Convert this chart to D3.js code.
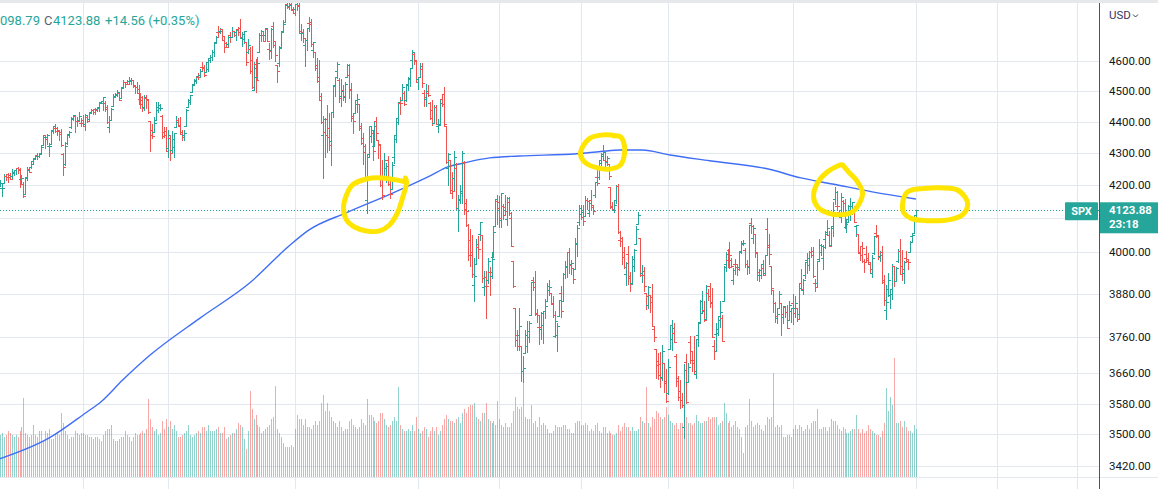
<!DOCTYPE html>
<html><head><meta charset="utf-8">
<script src="https://cdn.jsdelivr.net/npm/d3@7/dist/d3.min.js"></script>
<style>
html,body{margin:0;padding:0;background:#fff;overflow:hidden;}
svg{display:block;font-family:Roboto,"Noto Sans",Arial,sans-serif;}
</style></head><body>
<svg id="chart" width="1158" height="489"></svg>
<script>
// ---- DATA: SPX daily bars, 2021-06-01 .. 2023-04-03 (one row per month) ----
const opens = [
4216,4207,4191,4207,4229,4234,4232,4229,4242,4248,4255,4249,4220,4205,4174,4224,4249,4256,4274,4285,4294,4290,
4300,4327,4357,4351,4321,4330,4373,4381,4381,4370,4368,4296,4265,4331,4362,4382,4410,4417,4403,4404,4396,
4406,4393,4416,4408,4430,4438,4442,4442,4446,4464,4462,4462,4440,4382,4406,4451,4485,4490,4493,4476,4514,4529,
4529,4534,4532,4535,4518,4513,4506,4474,4479,4447,4477,4470,4403,4375,4367,4406,4439,4443,4420,4368,4370,
4317,4348,4310,4320,4384,4406,4386,4368,4358,4387,4448,4464,4497,4524,4532,4547,4553,4579,4580,4563,4573,
4610,4613,4630,4663,4700,4702,4708,4670,4660,4656,4690,4680,4701,4700,4708,4713,4678,4675,4664,4629,4640,
4602,4505,4589,4548,4632,4690,4687,4687,4710,4642,4636,4720,4653,4587,4594,4645,4703,4733,4795,4789,4795,4776,
4778,4804,4788,4694,4697,4655,4670,4728,4733,4637,4632,4588,4547,4471,4357,4367,4409,4381,4337,4431,
4519,4567,4535,4483,4505,4480,4548,4554,4506,4413,4429,4456,4456,4385,4332,4324,4155,4298,4355,
4364,4322,4401,4343,4327,4202,4223,4253,4280,4203,4188,4289,4345,4398,4462,4470,4494,4470,4523,4541,4603,4624,4600,
4540,4548,4573,4495,4474,4494,4462,4437,4396,4449,4385,4390,4473,4490,4385,4255,4279,4187,4222,4254,
4130,4159,4181,4271,4128,4081,4035,3991,3904,3964,4014,4053,4051,3900,3928,3920,3943,3930,3985,4078,4151,
4150,4096,4138,4134,4097,4148,4102,3974,3838,3764,3765,3733,3665,3716,3733,3774,3821,3920,3913,3826,3786,
3782,3792,3831,3858,3889,3881,3851,3762,3764,3818,3883,3860,3935,3955,3999,3965,3954,3951,4026,4088,
4113,4105,4108,4154,4116,4155,4133,4171,4227,4225,4269,4291,4280,4273,4267,4195,4134,4126,4154,4198,4034,4041,4000,
3937,3994,3931,3910,3960,4022,4084,4040,3940,3933,3881,3849,3875,3871,3782,3727,3682,3686,3651,3688,3633,
3609,3726,3753,3771,3707,3647,3596,3590,3520,3690,3638,3746,3697,3689,3657,3763,3799,3825,3835,3809,3881,
3901,3853,3734,3767,3780,3818,3810,3860,3964,3977,4007,3977,3919,3966,3956,3957,4001,4024,4005,3965,3957,
4087,4041,4053,3996,3934,3947,3954,3940,4069,4015,3958,3891,3853,3810,3840,3853,3815,3843,3829,3805,3830,
3853,3840,3840,3823,3910,3889,3932,3977,3961,3999,4002,3911,3909,3979,4001,3982,4037,4053,4050,4021,
4070,4159,4137,4119,4105,4153,4145,4073,4097,4126,4119,4115,4077,4052,4001,4018,3974,3993,3977,
3964,3939,3998,4055,4049,3988,3999,3912,3835,3894,3876,3879,3958,3917,3975,4003,3959,3939,3982,3975,3999,4047,4056,
4102];
const highs = [
4234,4217,4204,4234,4233,4237,4238,4249,4248,4255,4257,4252,4233,4211,4226,4256,4256,4272,4286,4293,4300,4302,
4321,4356,4359,4361,4331,4372,4386,4393,4383,4371,4376,4301,4336,4359,4369,4415,4422,4419,4416,4430,4412,
4422,4424,4417,4430,4441,4440,4445,4449,4461,4468,4480,4467,4455,4418,4443,4489,4493,4502,4496,4513,4537,4531,
4537,4546,4542,4536,4521,4529,4521,4492,4485,4487,4486,4471,4403,4394,4416,4465,4463,4457,4421,4382,4382,
4375,4356,4369,4365,4418,4413,4415,4375,4372,4440,4475,4487,4521,4540,4551,4559,4572,4598,4585,4597,4608,
4621,4636,4664,4684,4718,4714,4708,4685,4664,4688,4698,4715,4702,4708,4717,4743,4699,4702,4665,4673,4646,
4652,4595,4608,4613,4695,4706,4699,4713,4710,4660,4712,4732,4666,4587,4651,4698,4740,4791,4808,4805,4808,4787,
4797,4819,4798,4725,4708,4674,4714,4749,4745,4665,4632,4611,4603,4495,4418,4411,4454,4429,4432,4516,
4547,4595,4542,4540,4521,4531,4591,4589,4527,4427,4472,4490,4456,4395,4363,4330,4295,4385,4385,
4375,4401,4416,4343,4327,4277,4299,4268,4292,4218,4271,4358,4412,4465,4481,4522,4501,4521,4546,4576,4637,4628,4603,
4547,4593,4594,4503,4522,4521,4464,4471,4453,4453,4410,4471,4489,4512,4386,4300,4279,4240,4308,4269,
4170,4201,4307,4275,4158,4082,4068,4050,3982,4039,4047,4090,4051,3946,3944,3982,3955,3999,4075,4158,4169,
4167,4177,4143,4169,4165,4164,4119,3975,3839,3778,3838,3733,3707,3779,3802,3802,3913,3928,3946,3837,3818,
3829,3832,3864,3911,3919,3881,3874,3830,3796,3863,3903,3939,3975,3999,4013,3976,3954,4040,4079,4141,
4141,4140,4168,4162,4151,4187,4138,4211,4258,4280,4301,4325,4302,4292,4267,4195,4149,4156,4200,4203,4062,4045,4015,
3971,4018,3942,3987,4010,4076,4119,4040,3961,3956,3881,3901,3877,3907,3790,3727,3716,3717,3736,3688,3671,
3698,3793,3807,3797,3711,3653,3641,3608,3685,3712,3689,3762,3719,3762,3754,3801,3862,3886,3859,3905,3893,
3911,3895,3751,3796,3814,3859,3819,3959,4001,4009,4028,3983,3954,3980,3962,4004,4033,4035,4013,3976,4080,
4101,4080,4053,4001,3951,3966,3977,3991,4101,4053,3959,3891,3855,3839,3888,3853,3846,3846,3849,3858,3840,
3878,3874,3840,3907,3951,3921,3971,3998,4003,4016,4016,3923,3973,4039,4024,4019,4062,4095,4063,4077,
4149,4195,4183,4125,4176,4156,4157,4094,4139,4160,4149,4136,4081,4052,4017,4029,3979,4018,3997,
3972,3990,4048,4079,4051,4002,4018,3934,3905,3938,3894,3965,3959,3956,4010,4039,4007,3973,4004,3979,4031,4057,4110,
4126];
const lows = [
4197,4198,4167,4206,4217,4210,4219,4221,4233,4234,4238,4196,4203,4164,4174,4217,4241,4255,4267,4281,4283,4288,
4300,4326,4315,4330,4290,4330,4365,4368,4356,4341,4323,4233,4263,4330,4351,4380,4405,4367,4387,4403,4386,
4385,4374,4398,4404,4429,4425,4425,4436,4436,4461,4437,4435,4397,4368,4406,4451,4482,4485,4469,4476,4514,4514,
4523,4527,4524,4513,4493,4493,4459,4445,4436,4438,4444,4428,4306,4347,4367,4406,4430,4437,4347,4350,4307,
4289,4279,4305,4289,4382,4386,4360,4343,4342,4387,4448,4457,4497,4524,4526,4540,4547,4569,4551,4563,4568,
4595,4604,4617,4662,4681,4694,4670,4630,4647,4651,4665,4680,4685,4672,4690,4680,4652,4660,4586,4626,4560,
4511,4504,4496,4541,4632,4667,4667,4670,4667,4606,4611,4649,4600,4531,4583,4645,4703,4733,4781,4778,4775,4765,
4758,4775,4700,4671,4663,4582,4638,4701,4651,4615,4569,4531,4475,4396,4223,4287,4305,4309,4264,4414,
4483,4544,4465,4451,4471,4465,4548,4477,4402,4365,4429,4430,4374,4328,4267,4222,4115,4287,4336,
4280,4322,4345,4285,4199,4157,4223,4209,4200,4162,4188,4270,4335,4392,4425,4469,4455,4466,4502,4517,4581,4589,4530,
4507,4547,4514,4451,4450,4485,4408,4388,4395,4392,4367,4390,4452,4385,4268,4201,4175,4162,4187,4129,
4062,4145,4147,4114,4078,3976,3958,3928,3859,3964,3983,4034,3912,3876,3810,3909,3875,3925,3985,4077,4083,
4074,4074,4099,4110,4080,4110,4017,3900,3735,3722,3723,3640,3637,3716,3717,3744,3821,3889,3820,3800,3739,
3752,3742,3810,3858,3876,3850,3815,3758,3721,3817,3814,3860,3925,3928,3938,3937,3910,3951,3989,4080,
4099,4080,4108,4128,4108,4128,4112,4164,4201,4220,4263,4277,4253,4262,4218,4130,4124,4120,4147,4057,4017,3965,3954,
3904,3907,3886,3907,3945,4022,4084,3929,3913,3888,3837,3839,3827,3789,3749,3648,3644,3623,3641,3610,3584,
3604,3726,3722,3745,3626,3588,3568,3571,3492,3582,3638,3687,3666,3657,3647,3733,3799,3825,3803,3809,3863,
3843,3759,3699,3721,3763,3786,3749,3860,3944,3957,3954,3955,3907,3936,3933,3947,3998,4020,3956,3937,3939,
4057,4026,3984,3919,3917,3924,3934,3936,3994,3966,3879,3828,3800,3796,3840,3765,3798,3813,3783,3805,3801,
3795,3815,3803,3810,3890,3878,3925,3938,3947,3985,3926,3886,3900,3974,3990,3950,4013,4049,4017,4021,
4047,4142,4127,4103,4089,4111,4070,4060,4093,4095,4113,4089,4048,3996,3976,3971,3943,3973,3969,
3940,3928,3995,4044,3980,3975,3909,3847,3809,3874,3838,3865,3902,3916,3971,3936,3919,3909,3971,3951,3999,4033,4056,
4099];
const closes = [
4202,4208,4193,4230,4227,4227,4220,4239,4247,4255,4247,4224,4222,4166,4225,4246,4242,4266,4281,4291,4292,4298,
4320,4352,4344,4358,4321,4370,4385,4369,4374,4360,4327,4258,4323,4359,4367,4412,4422,4401,4401,4419,4395,
4387,4423,4403,4429,4437,4432,4437,4448,4461,4468,4480,4448,4400,4406,4442,4480,4486,4496,4470,4509,4529,4523,
4524,4537,4535,4520,4514,4493,4459,4469,4443,4481,4474,4433,4358,4354,4396,4449,4455,4443,4353,4359,4308,
4357,4300,4346,4364,4400,4391,4361,4351,4364,4438,4471,4486,4520,4536,4550,4545,4566,4575,4552,4596,4605,
4614,4631,4661,4680,4698,4702,4685,4647,4649,4683,4683,4701,4689,4705,4698,4683,4691,4701,4595,4655,4567,
4513,4577,4538,4592,4687,4701,4667,4712,4669,4634,4710,4669,4621,4568,4649,4697,4726,4791,4786,4793,4779,4766,
4797,4794,4701,4696,4677,4670,4713,4726,4659,4663,4577,4533,4483,4398,4410,4356,4350,4327,4432,4516,
4547,4589,4477,4501,4484,4522,4587,4504,4419,4402,4471,4475,4380,4349,4305,4226,4289,4385,4374,
4306,4387,4363,4329,4201,4171,4278,4260,4204,4173,4262,4358,4412,4463,4461,4512,4456,4520,4543,4576,4632,4602,4530,
4546,4583,4525,4481,4500,4488,4413,4397,4447,4393,4392,4462,4459,4394,4272,4296,4175,4184,4288,4132,
4155,4175,4300,4147,4123,3991,4001,3935,3930,4024,4008,4089,3924,3901,3901,3974,3941,3979,4058,4158,4132,
4101,4177,4109,4121,4161,4116,4018,3901,3750,3735,3790,3667,3675,3765,3760,3796,3912,3900,3822,3819,3785,
3825,3831,3845,3903,3899,3854,3819,3802,3790,3863,3831,3937,3960,3999,3962,3967,3921,4024,4072,4130,
4119,4091,4155,4152,4145,4140,4122,4210,4207,4280,4297,4305,4274,4284,4228,4138,4129,4141,4199,4058,4031,3986,3955,
3967,3924,3908,3980,4006,4067,4110,3933,3946,3901,3873,3900,3856,3790,3758,3693,3655,3647,3719,3640,3586,
3678,3791,3783,3745,3640,3612,3589,3577,3670,3583,3678,3720,3695,3666,3753,3797,3859,3831,3807,3901,3872,
3856,3760,3720,3771,3807,3828,3749,3956,3993,3957,3992,3959,3947,3965,3950,4004,4027,4026,3964,3958,4080,
4077,4072,3999,3941,3934,3964,3934,3991,4020,3995,3896,3852,3818,3822,3878,3822,3845,3829,3783,3849,3840,
3824,3853,3808,3895,3892,3919,3970,3983,3999,3991,3929,3899,3973,4020,4017,4016,4060,4071,4018,4077,
4119,4180,4136,4111,4164,4118,4082,4090,4137,4136,4148,4090,4079,3997,3991,4012,3970,3982,3970,
3951,3981,4046,4048,3986,3992,3918,3862,3856,3919,3892,3960,3917,3952,4003,3937,3949,3971,3978,3971,4028,4051,4109,
4123.88];
const volumes = [ // millions of shares
2400,2100,2200,2000,2100,2300,2200,2100,2000,2100,2000,2300,2500,3950,2200,2100,2000,2100,2600,2100,2000,2300,
2300,1800,2300,2200,2400,1900,1900,2100,2200,2100,3200,2700,2300,2100,1900,2000,2000,2300,2200,2100,2200,
2200,2100,2100,2000,2000,1900,2000,2000,1900,1800,2100,2300,2400,2400,2600,1900,1800,1800,1900,2000,2000,2300,
2100,2000,1800,2000,2200,2100,2100,2200,2300,2200,2400,3900,2900,2500,2300,2400,2100,2200,2800,2400,2900,
2500,2800,2400,2600,2300,2000,2000,2100,2200,2300,2600,2100,2000,2100,2200,2300,2200,2500,2500,2300,2600,
2300,2300,2300,2400,2500,2200,2200,2500,1900,2000,2100,2200,2200,2400,2700,2600,2500,1900,1400,2300,4300,
3400,2900,3100,2600,2500,2200,2300,2400,2500,2600,2900,3000,4550,2400,2200,2000,1700,1500,1500,1500,1600,1500,
2400,3100,2900,2900,2600,2900,2500,2500,2400,2600,2800,2600,2800,3700,4100,3300,3700,3300,3000,2800,
2700,2500,2800,2500,2300,2400,2400,2800,2900,2600,2500,2400,2500,2900,2700,2600,3900,3100,3100,
3000,2800,2700,2800,3200,3200,2900,2600,2500,2600,2800,3000,2800,4500,2600,2400,2300,2300,2400,2300,2600,2300,3000,
2400,2200,2300,2500,2400,2000,2300,2500,2300,2500,2100,2300,2600,2900,3100,2900,2800,2800,2700,2900,
3000,2700,3200,3400,3200,3500,3600,3600,3700,3000,2900,2800,3200,3200,3700,2900,2800,2700,2800,2600,3800,
2900,2600,2500,2700,2500,2500,2700,3300,4000,3500,3400,3500,4750,3000,2900,2900,3600,2700,2800,2500,3000,
2600,2700,2600,2400,2200,2200,2300,2600,2500,2500,2500,2600,2600,2400,2400,2200,2200,2700,2800,2800,
2600,2600,2700,2600,2300,2400,2300,2600,2700,2300,2200,2500,2500,2200,2300,2200,2100,2100,2200,2600,2300,2500,2700,
2500,2500,2300,2500,2300,2300,2400,3000,2800,2700,4500,2700,2500,3000,2900,3300,3200,3000,2900,3000,3500,
3100,2800,2700,2600,2700,2400,2700,2700,3600,3000,2700,2700,2600,2700,3100,2800,2700,2700,2800,2800,3000,
2900,3000,3000,3000,2600,2700,2800,3700,3200,2700,2800,2500,2600,2800,2500,2400,2000,1200,2500,2600,3900,
2800,2500,2600,2700,2600,2400,2300,2600,3000,2900,3000,5200,2500,2600,2500,2600,2000,2000,2100,2100,2000,
2400,2600,2400,2600,2500,2300,2400,2600,2400,2700,2800,2800,3400,2400,2400,2500,2500,2300,2500,2900,
2800,2800,2600,2400,2300,2500,2400,2200,2200,2300,2400,2400,3100,2400,2200,2400,2200,2300,2600,
2400,2300,2200,2100,2100,2000,2300,2700,4450,3300,4000,3600,5950,2700,2700,2800,2500,2800,2500,2300,2300,2200,2600,
2400];
// moving average line, sampled (bar index, value)
const maIdx = [1,26,45,52,63,77,102,127,147,157,176,198,205,218,227,235,248,263,292,304,314,325,339,359,388,405,421,441,463];
const maVal = [3438,3491,3558,3584,3642,3710,3811,3910,4018,4065,4117,4173,4192,4229,4257,4269,4285,4291,4298,4305,4310,4310,4294,4276,4251,4223,4204,4180,4158];
// axis
const priceTicks = [4600,4500,4400,4300,4200,4100,4000,3880,3760,3660,3580,3500,3420];
const monthGridIdx = [43,86,150,212,253,294,338,401,463,504,544];
const symbol = "SPX";
const currency = "USD";
const lastPrice = 4123.88;
const countdown = "23:18";
const legendLow = "098.79";
const legendClose = "4123.88";
const legendChange = "+14.56 (+0.35%)";
// hand-drawn highlight loops: centre (bar index, price)
const annIdx = [190, 305, 424, 473];
const annPrice = [4140, 4304, 4180, 4144];

// ---- STYLE / LAYOUT ----
const W = 1158, H = 489, plotRight = 1099;
const UP = "#26a69a", DN = "#ef5350";
const UPV = "rgba(38,166,154,0.5)", DNV = "rgba(239,83,80,0.5)";
const GRID = "#e3e8ef";
const TICK = 2; // open/close tick length, px
const annShapes = [
 [[32,-23],[8,-27],[-8,-26],[-22,-20],[-28,-10],[-31,3],[-28,15],[-20,22],[-8,26],[5,26],[15,20],[23,8],[28,-7],[32,-22],[31,-27]],
 [[15,-16],[1,-17],[-12,-14],[-20,-5],[-22,3],[-17,11],[-5,16],[8,17],[18,13],[22,1],[21,-10],[18,-15],[11,-16]],
 [[2,-27],[-11,-20],[-21,-9],[-25,5],[-21,15],[-11,21],[2,23],[14,20],[21,11],[24,1],[19,-10],[10,-20],[4,-27]],
 [[-23,-14],[1,-16],[21,-14],[29,-7],[32,1],[27,11],[14,16],[-9,17],[-24,15],[-32,9],[-33,-1],[-29,-11],[-23,-14],[-16,-15]]
];

const x = d3.scaleLinear().domain([0, 463]).range([-2.3, 915.9]);
const y = d3.scaleLog().domain([3420, 4600]).range([466, 61]);
const yv = d3.scaleLinear().domain([0, 6000]).range([477, 357]);

const svg = d3.select("#chart");
svg.append("rect").attr("width", W).attr("height", H).attr("fill", "#ffffff");

// grid
const grid = svg.append("g").attr("shape-rendering", "crispEdges").attr("stroke", GRID).attr("stroke-width", 1);
grid.selectAll("line.h").data(priceTicks).join("line").attr("class", "h")
  .attr("x1", 0).attr("x2", plotRight)
  .attr("y1", d => Math.round(y(d)) + 0.5).attr("y2", d => Math.round(y(d)) + 0.5);
grid.selectAll("line.v").data(monthGridIdx).join("line").attr("class", "v")
  .attr("y1", 3).attr("y2", H)
  .attr("x1", d => Math.round(x(d)) + 0.5).attr("x2", d => Math.round(x(d)) + 0.5);
grid.append("line").attr("x1", 0).attr("x2", W).attr("y1", 477.5).attr("y2", 477.5);

const idx = d3.range(closes.length);
const isUp = i => closes[i] >= opens[i];

// volume
svg.append("g").attr("shape-rendering", "crispEdges")
  .selectAll("rect").data(idx).join("rect")
  .attr("x", i => Math.round(x(i))).attr("width", 1)
  .attr("y", i => Math.round(yv(volumes[i])))
  .attr("height", i => Math.round(yv(0)) - Math.round(yv(volumes[i])))
  .attr("fill", i => isUp(i) ? UPV : DNV);

// moving average
svg.append("path")
  .attr("d", d3.line().x((d, k) => x(maIdx[k])).y((d, k) => y(maVal[k])).curve(d3.curveMonotoneX)(maIdx))
  .attr("fill", "none").attr("stroke", "#3f6ef6").attr("stroke-width", 1.4);

// last price dotted line
svg.append("line").attr("x1", 0).attr("x2", plotRight)
  .attr("y1", Math.round(y(lastPrice)) + 0.5).attr("y2", Math.round(y(lastPrice)) + 0.5)
  .attr("stroke", UP).attr("stroke-width", 1).attr("stroke-dasharray", "1,2");

// OHLC bars
const gb = svg.append("g").attr("shape-rendering", "crispEdges");
const bar = gb.selectAll("g").data(idx).join("g").attr("fill", i => isUp(i) ? UP : DN);
bar.append("rect").attr("x", i => Math.round(x(i))).attr("width", 1)
  .attr("y", i => Math.round(y(highs[i])))
  .attr("height", i => Math.max(1, Math.round(y(lows[i])) - Math.round(y(highs[i])) + 1));
bar.append("rect").attr("x", i => Math.round(x(i)) - TICK).attr("width", TICK).attr("height", 1)
  .attr("y", i => Math.round(y(opens[i])));
bar.append("rect").attr("x", i => Math.round(x(i)) + 1).attr("width", TICK).attr("height", 1)
  .attr("y", i => Math.round(y(closes[i])));

// highlight loops
const loop = d3.line().curve(d3.curveCatmullRom.alpha(0.5));
svg.append("g").selectAll("path").data(annIdx).join("path")
  .attr("d", (d, k) => {
    const cx = x(annIdx[k]), cy = y(annPrice[k]);
    return loop(annShapes[k].map(p => [cx + p[0], cy + p[1]]));
  })
  .attr("fill", "none").attr("stroke", "#ffe500").attr("stroke-width", 5)
  .attr("stroke-linecap", "round").attr("stroke-linejoin", "round");

// top strip
svg.append("rect").attr("x", 0).attr("y", 0).attr("width", W).attr("height", 3).attr("fill", "#e6e8ec");

// price axis
svg.append("rect").attr("x", plotRight + 1).attr("y", 3).attr("width", W - plotRight - 1).attr("height", 474).attr("fill", "#fff");
svg.append("line").attr("x1", plotRight + 0.5).attr("x2", plotRight + 0.5).attr("y1", 3).attr("y2", H)
  .attr("stroke", "#50535e").attr("stroke-width", 1);
svg.append("g").selectAll("text").data(priceTicks.filter(d => Math.abs(y(d) - y(lastPrice)) > 12)).join("text")
  .attr("x", 1109).attr("y", d => y(d) + 4)
  .attr("font-size", "11.5px").attr("fill", "#131722").text(d => d3.format(".2f")(d));
svg.append("text").attr("x", 1109).attr("y", 19).attr("font-size", "11.5px").attr("fill", "#3a3660").text(currency);
svg.append("path").attr("d", "M1133,14.5 L1135.5,17 L1138,14.5").attr("fill", "none").attr("stroke", "#3a3660").attr("stroke-width", 1);

// last price labels
const py = y(lastPrice);
svg.append("rect").attr("x", plotRight + 1).attr("y", py - 8).attr("width", W - plotRight - 1).attr("height", 31).attr("fill", UP);
svg.append("text").attr("x", 1109).attr("y", py + 4).attr("font-size", "11.5px").attr("font-weight", "bold").attr("fill", "#fff").text(d3.format(".2f")(lastPrice));
svg.append("text").attr("x", 1109).attr("y", py + 18).attr("font-size", "11.5px").attr("font-weight", "bold").attr("fill", "#fff").text(countdown);
svg.append("rect").attr("x", 1065).attr("y", py - 8).attr("width", 33).attr("height", 18).attr("rx", 1).attr("fill", UP);
svg.append("text").attr("x", 1081.5).attr("y", py + 5).attr("text-anchor", "middle").attr("font-size", "11px").attr("font-weight", "bold").attr("fill", "#fff").text(symbol);

// legend
const lg = svg.append("text").attr("y", 25).attr("font-size", "13px");
lg.append("tspan").attr("x", 0).attr("fill", UP).text(legendLow);
lg.append("tspan").attr("x", 44).attr("fill", "#5d606b").text("C");
lg.append("tspan").attr("x", 53).attr("fill", UP).text(legendClose);
lg.append("tspan").attr("x", 105).attr("fill", UP).text(legendChange);
</script>
</body></html>
